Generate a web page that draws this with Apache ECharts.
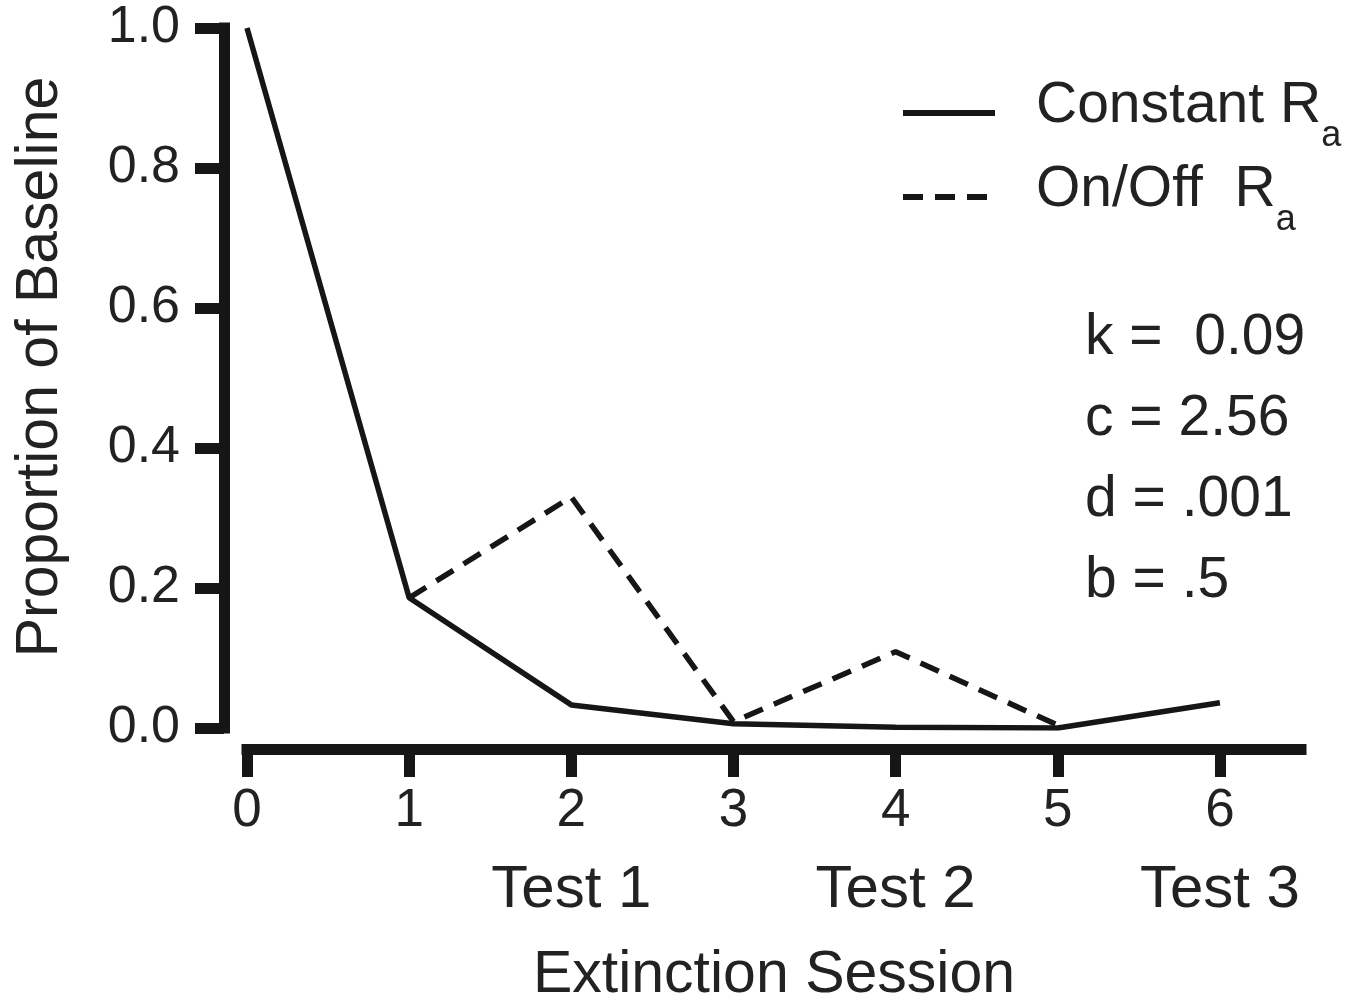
<!DOCTYPE html>
<html>
<head>
<meta charset="utf-8">
<script src="https://cdn.jsdelivr.net/npm/echarts@6/dist/echarts.min.js"></script>
<style>
  html, body { margin: 0; padding: 0; background: #fff; }
  #chart { width: 1371px; height: 1000px; }
</style>
</head>
<body>
<div id="chart"></div>
<script>
// extinction sessions on the x axis
const sessions = [0, 1, 2, 3, 4, 5, 6];
const testLabels = ["", "", "Test 1", "", "Test 2", "", "Test 3"];

// proportion of baseline
const constantRa = [1.0, 0.186, 0.033, 0.006, 0.001, 0.0, 0.036];
const onOffRa = [null, 0.186, 0.33, 0.009, 0.109, 0.004, null];

const yTicks = [0, 0.2, 0.4, 0.6, 0.8, 1.0];
const paramLines = ["k =  0.09", "c = 2.56", "d = .001", "b = .5"];

const FONT = "Liberation Sans, Arial, sans-serif";
const INK = "#161616";

const dom = document.getElementById("chart");
const myChart = echarts.init(dom);

function toPairs(values) {
  const out = [];
  values.forEach((v, i) => {
    if (v !== null) out.push([sessions[i], v]);
  });
  return out;
}

const option = {
  animation: false,
  backgroundColor: "#fff",
  grid: {
    left: 247,
    top: 28,
    width: 1054,
    height: 700,
    outerBoundsMode: "none",
    containLabel: false,
  },
  legend: {
    orient: "vertical",
    left: 900,
    top: 72,
    padding: 0,
    itemWidth: 92,
    itemHeight: 60,
    itemGap: 2,
    selectedMode: false,
    lineStyle: { width: 6 },
    itemStyle: { color: "rgba(0,0,0,0)", opacity: 0, borderWidth: 0 },
    formatter: (name) => "{m|" + name + "}{s|a}",
    textStyle: {
      padding: [0, 0, 0, 36],
      color: "#222",
      fontFamily: FONT,
      rich: {
        m: {
          fontSize: 57,
          fontFamily: FONT,
          color: "#222",
          lineHeight: 60,
          padding: [0, 0, 14, 0],
        },
        s: {
          fontSize: 36,
          fontFamily: FONT,
          color: "#222",
          lineHeight: 60,
          padding: [46, 0, 0, 0],
        },
      },
    },
    data: ["Constant R", "On/Off  R"],
  },
  xAxis: {
    type: "value",
    min: 0,
    max: 6.5,
    interval: 1,
    offset: 21,
    splitLine: { show: false },
    axisLine: {
      show: true,
      onZero: false,
      lineStyle: { color: INK, width: 11, cap: "square" },
    },
    axisTick: {
      show: true,
      length: 28,
      customValues: sessions,
      lineStyle: { color: INK, width: 11 },
    },
    axisLabel: {
      margin: 32,
      customValues: sessions,
      formatter: (v) => {
        const i = sessions.indexOf(v);
        const t = i >= 0 ? testLabels[i] : "";
        return t ? "{n|" + v + "}\n{t|" + t + "}" : "{n|" + v + "}";
      },
      rich: {
        n: { fontSize: 53, fontFamily: FONT, color: "#222", lineHeight: 60 },
        t: { fontSize: 60, fontFamily: FONT, color: "#222", lineHeight: 98 },
      },
    },
    name: "Extinction Session",
    nameLocation: "middle",
    nameGap: 197,
    nameTextStyle: { fontSize: 59, fontFamily: FONT, color: "#222" },
  },
  yAxis: {
    type: "value",
    min: 0,
    max: 1,
    interval: 0.2,
    offset: 23,
    splitLine: { show: false },
    axisLine: {
      show: true,
      onZero: false,
      lineStyle: { color: INK, width: 11, cap: "square" },
    },
    axisTick: {
      show: true,
      length: 29,
      customValues: yTicks,
      lineStyle: { color: INK, width: 11 },
    },
    axisLabel: {
      margin: 44,
      fontSize: 52,
      fontFamily: FONT,
      color: "#222",
      formatter: (v) => v.toFixed(1),
    },
    name: "Proportion of Baseline",
    nameLocation: "middle",
    nameGap: 154,
    nameTextStyle: {
      fontSize: 59,
      fontFamily: FONT,
      color: "#222",
      padding: [0, 0, 0, 22],
    },
  },
  graphic: [
    {
      type: "text",
      left: 1085,
      top: 298,
      style: {
        text: paramLines.join("\n"),
        font: "57px " + FONT,
        lineHeight: 81,
        fill: "#222",
      },
    },
  ],
  series: [
    {
      name: "Constant R",
      type: "line",
      symbol: "none",
      data: toPairs(constantRa),
      lineStyle: { color: INK, width: 5.5 },
      itemStyle: { color: INK },
    },
    {
      name: "On/Off  R",
      type: "line",
      symbol: "none",
      data: toPairs(onOffRa),
      lineStyle: { color: INK, width: 5.5, type: [20, 12] },
      itemStyle: { color: INK },
    },
  ],
};

option && myChart.setOption(option);
</script>
</body>
</html>
